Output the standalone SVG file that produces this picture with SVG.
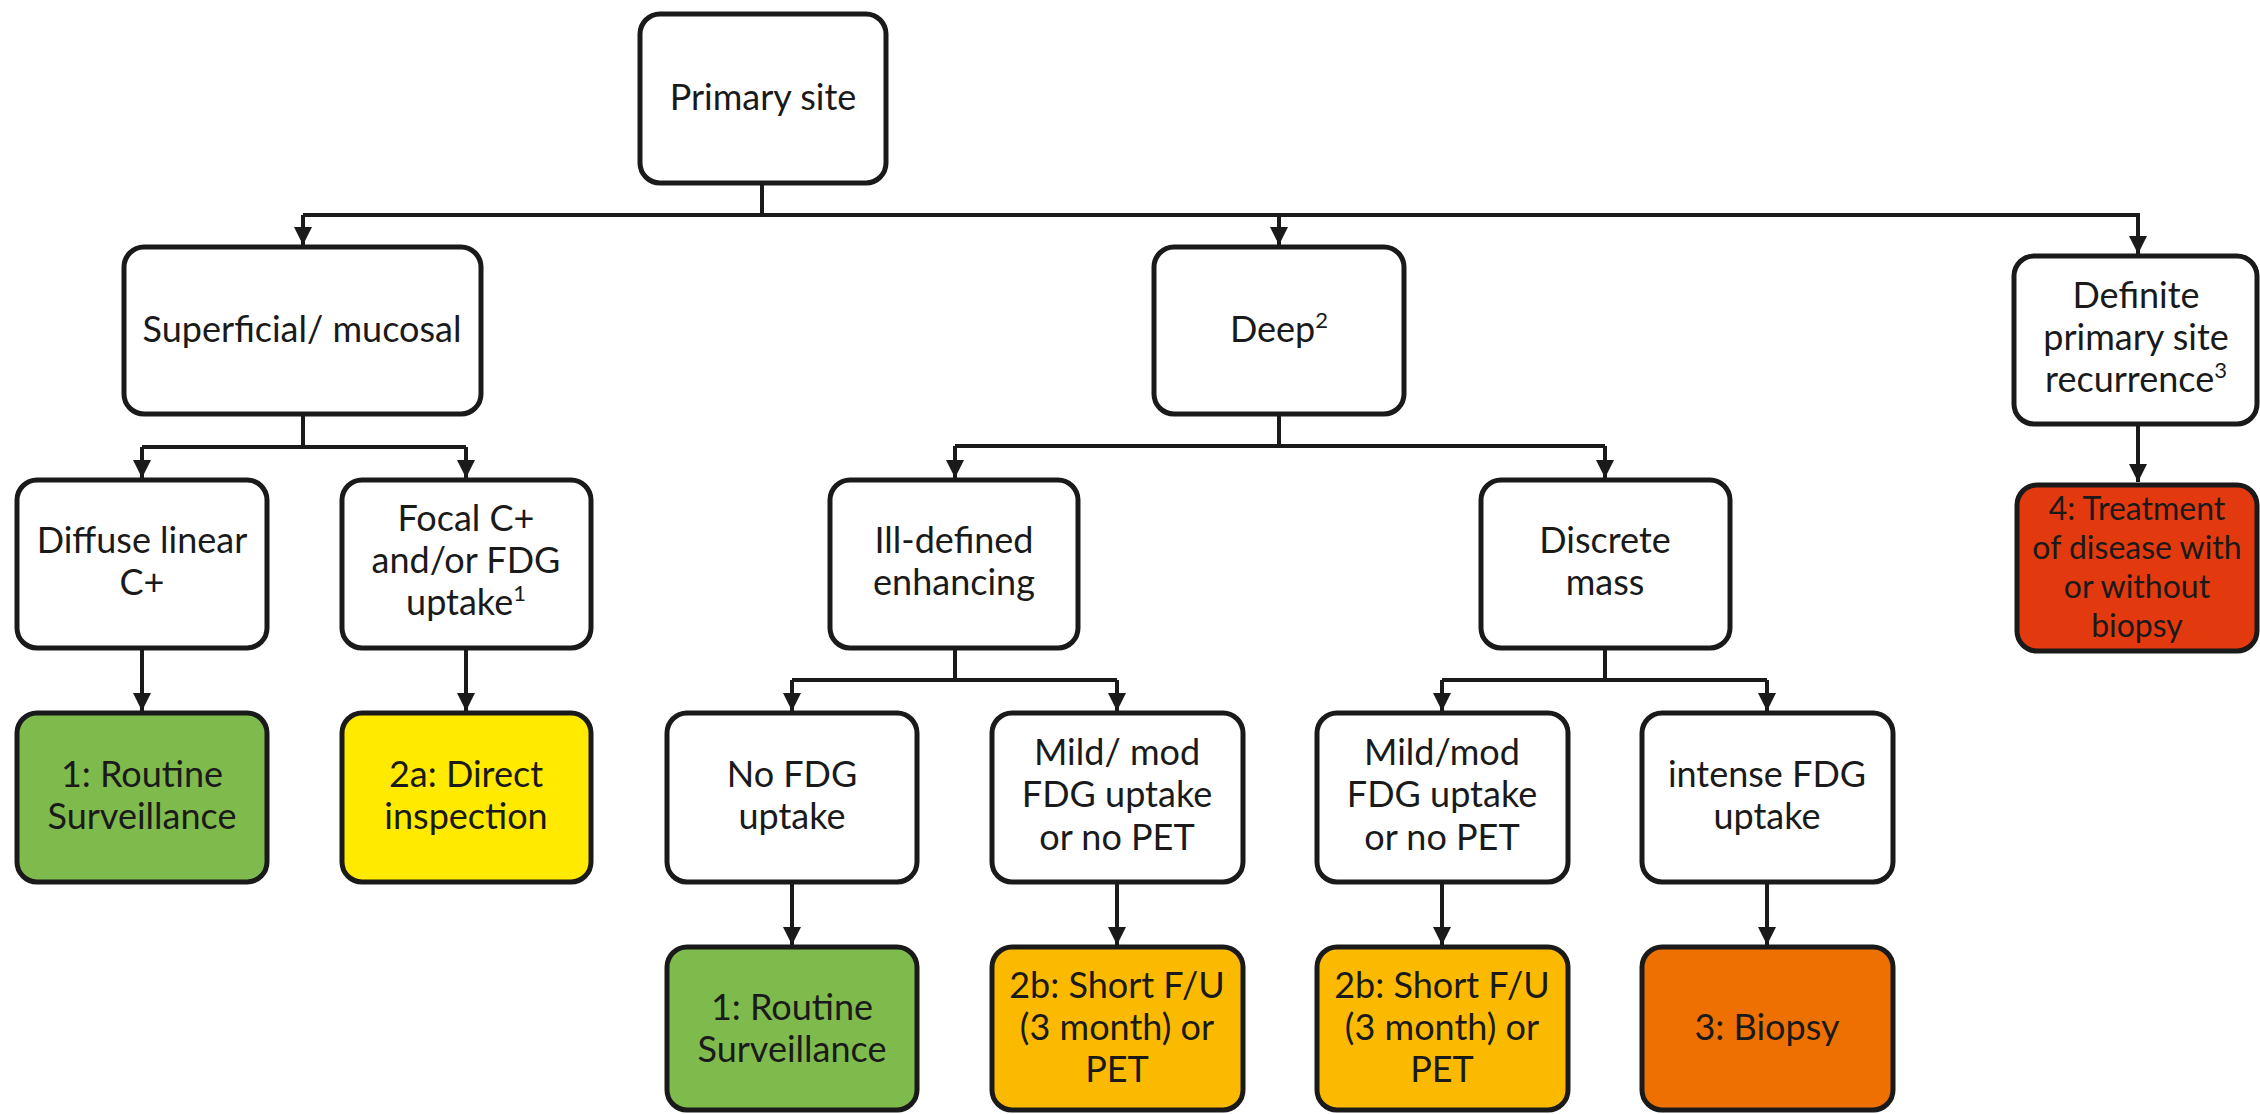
<svg xmlns="http://www.w3.org/2000/svg" width="2260" height="1114" viewBox="0 0 2260 1114">
<style>
.box{stroke:#1a1a1a;stroke-width:5;fill:#ffffff}
.green{fill:#7fba4d}
.yellow{fill:#ffea00}
.amber{fill:#fbba00}
.orange{fill:#ee7000}
.red{fill:#e2390f}
.lbl{font-family:Lato,"Open Sans","Liberation Sans",sans-serif;font-size:36px;fill:#1a1a1a;text-anchor:middle}
.small{font-size:32px}
.sup{font-size:22px}
.con{stroke:#1a1a1a;stroke-width:4;fill:none}
</style>
<defs>
<marker id="ah" viewBox="0 0 10 10" refX="10" refY="5" markerWidth="4.5" markerHeight="4.5" orient="auto" markerUnits="strokeWidth">
<path d="M0,0 L10,5 L0,10 z" fill="#1a1a1a"/>
</marker>
</defs>
<rect width="2260" height="1114" fill="#ffffff"/>
<g id="connectors">
<path class="con" d="M762,183 V215"/>
<path class="con" d="M303,215 H2138"/>
<path class="con" d="M303,215 V245" marker-end="url(#ah)"/>
<path class="con" d="M1279,215 V245" marker-end="url(#ah)"/>
<path class="con" d="M2138,213 V254" marker-end="url(#ah)"/>
<path class="con" d="M303,414 V447 M142,447 H466"/>
<path class="con" d="M142,447 V478" marker-end="url(#ah)"/>
<path class="con" d="M466,447 V478" marker-end="url(#ah)"/>
<path class="con" d="M1279,414 V446 M955,446 H1605"/>
<path class="con" d="M955,446 V478" marker-end="url(#ah)"/>
<path class="con" d="M1605,446 V478" marker-end="url(#ah)"/>
<path class="con" d="M2138,424 V482" marker-end="url(#ah)"/>
<path class="con" d="M142,648 V711" marker-end="url(#ah)"/>
<path class="con" d="M466,648 V711" marker-end="url(#ah)"/>
<path class="con" d="M955,648 V680 M792,680 H1117"/>
<path class="con" d="M792,680 V711" marker-end="url(#ah)"/>
<path class="con" d="M1117,680 V711" marker-end="url(#ah)"/>
<path class="con" d="M1605,648 V680 M1442,680 H1767"/>
<path class="con" d="M1442,680 V711" marker-end="url(#ah)"/>
<path class="con" d="M1767,680 V711" marker-end="url(#ah)"/>
<path class="con" d="M792,882 V945" marker-end="url(#ah)"/>
<path class="con" d="M1117,882 V945" marker-end="url(#ah)"/>
<path class="con" d="M1442,882 V945" marker-end="url(#ah)"/>
<path class="con" d="M1767,882 V945" marker-end="url(#ah)"/>
</g>
<g id="primary">
<rect class="box" x="640" y="14" width="246" height="169" rx="20"/>
<text class="lbl" x="763" y="110">Primary site</text>
</g>
<g id="superficial">
<rect class="box" x="124" y="247" width="357" height="167" rx="20"/>
<text class="lbl" x="302" y="342">Superficial/ mucosal</text>
</g>
<g id="deep">
<rect class="box" x="1154" y="247" width="250" height="167" rx="20"/>
<text class="lbl" x="1279" y="342">Deep<tspan class="sup" dy="-14">2</tspan></text>
</g>
<g id="definite">
<rect class="box" x="2014" y="256" width="243" height="168" rx="20"/>
<text class="lbl" x="2136" y="308">Definite</text>
<text class="lbl" x="2136" y="350">primary site</text>
<text class="lbl" x="2136" y="392">recurrence<tspan class="sup" dy="-14">3</tspan></text>
</g>
<g id="diffuse">
<rect class="box" x="17" y="480" width="250" height="168" rx="20"/>
<text class="lbl" x="142" y="553">Diffuse linear</text>
<text class="lbl" x="142" y="595">C+</text>
</g>
<g id="focal">
<rect class="box" x="342" y="480" width="249" height="168" rx="20"/>
<text class="lbl" x="466" y="531">Focal C+</text>
<text class="lbl" x="466" y="573">and/or FDG</text>
<text class="lbl" x="466" y="615">uptake<tspan class="sup" dy="-14">1</tspan></text>
</g>
<g id="illdefined">
<rect class="box" x="830" y="480" width="248" height="168" rx="20"/>
<text class="lbl" x="954" y="553">Ill-defined</text>
<text class="lbl" x="954" y="595">enhancing</text>
</g>
<g id="discrete">
<rect class="box" x="1481" y="480" width="249" height="168" rx="20"/>
<text class="lbl" x="1605" y="553">Discrete</text>
<text class="lbl" x="1605" y="595">mass</text>
</g>
<g id="treatment">
<rect class="box red" x="2017" y="485" width="240" height="166" rx="20"/>
<text class="lbl small" x="2137" y="520">4: Treatment</text>
<text class="lbl small" x="2137" y="559">of disease with</text>
<text class="lbl small" x="2137" y="598">or without</text>
<text class="lbl small" x="2137" y="637">biopsy</text>
</g>
<g id="routine1">
<rect class="box green" x="17" y="713" width="250" height="169" rx="20"/>
<text class="lbl" x="142" y="787">1: Routine</text>
<text class="lbl" x="142" y="829">Surveillance</text>
</g>
<g id="direct">
<rect class="box yellow" x="342" y="713" width="249" height="169" rx="20"/>
<text class="lbl" x="466" y="787">2a: Direct</text>
<text class="lbl" x="466" y="829">inspection</text>
</g>
<g id="nofdg">
<rect class="box" x="667" y="713" width="250" height="169" rx="20"/>
<text class="lbl" x="792" y="787">No FDG</text>
<text class="lbl" x="792" y="829">uptake</text>
</g>
<g id="mild1">
<rect class="box" x="992" y="713" width="251" height="169" rx="20"/>
<text class="lbl" x="1117" y="765">Mild/ mod</text>
<text class="lbl" x="1117" y="807">FDG uptake</text>
<text class="lbl" x="1117" y="850">or no PET</text>
</g>
<g id="mild2">
<rect class="box" x="1317" y="713" width="251" height="169" rx="20"/>
<text class="lbl" x="1442" y="765">Mild/mod</text>
<text class="lbl" x="1442" y="807">FDG uptake</text>
<text class="lbl" x="1442" y="850">or no PET</text>
</g>
<g id="intense">
<rect class="box" x="1642" y="713" width="251" height="169" rx="20"/>
<text class="lbl" x="1767" y="787">intense FDG</text>
<text class="lbl" x="1767" y="829">uptake</text>
</g>
<g id="routine2">
<rect class="box green" x="667" y="947" width="250" height="163" rx="20"/>
<text class="lbl" x="792" y="1020">1: Routine</text>
<text class="lbl" x="792" y="1062">Surveillance</text>
</g>
<g id="shortfu1">
<rect class="box amber" x="992" y="947" width="251" height="163" rx="20"/>
<text class="lbl" x="1117" y="998">2b: Short F/U</text>
<text class="lbl" x="1117" y="1040">(3 month) or</text>
<text class="lbl" x="1117" y="1082">PET</text>
</g>
<g id="shortfu2">
<rect class="box amber" x="1317" y="947" width="251" height="163" rx="20"/>
<text class="lbl" x="1442" y="998">2b: Short F/U</text>
<text class="lbl" x="1442" y="1040">(3 month) or</text>
<text class="lbl" x="1442" y="1082">PET</text>
</g>
<g id="biopsy">
<rect class="box orange" x="1642" y="947" width="251" height="163" rx="20"/>
<text class="lbl" x="1767" y="1040">3: Biopsy</text>
</g>
</svg>
